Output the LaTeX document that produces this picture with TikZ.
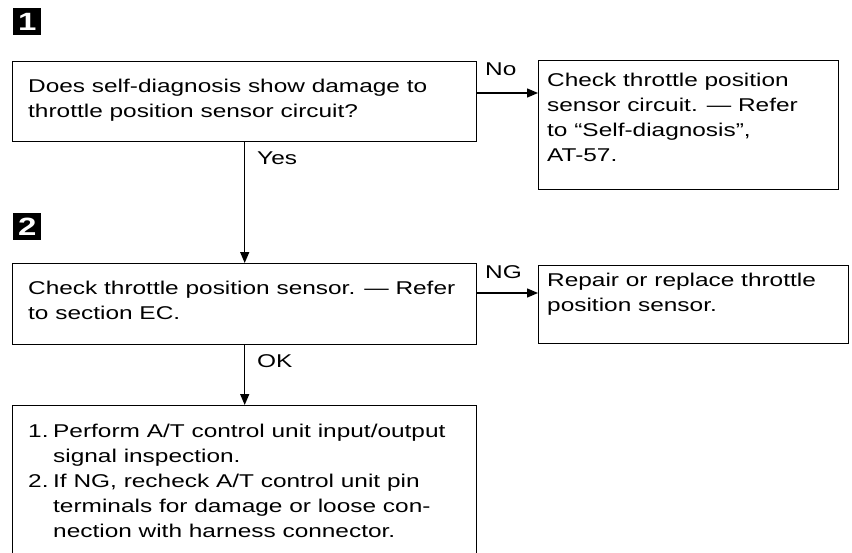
\documentclass[tikz,border=0pt]{standalone}
\usepackage{fontspec}
\setmainfont{Liberation Sans}[FakeStretch=1.32]
\usetikzlibrary{arrows.meta,calc}
\tikzset{
  box/.style={draw=black,line width=1.4pt,rectangle,inner sep=0pt,anchor=north west},
  txt/.style={inner sep=0pt,anchor=north west,align=left,font=\fontsize{18.5}{25}\selectfont},
  lbl/.style={inner sep=0pt,anchor=base west,font=\fontsize{18.5}{25}\selectfont},
  badge/.style={fill=black,text=white,inner sep=0pt,minimum width=28pt,minimum height=27pt,anchor=north west,font=\fontsize{25}{25}\selectfont\bfseries},
  arr/.style={line width=1.4pt,-{Triangle[length=11pt,width=9pt]}}
}
\begin{document}
\begin{tikzpicture}[x=1pt,y=-1pt]
\useasboundingbox (0,0) rectangle (852,552);
% badges
\node[badge] (n1) at (13,8) {1};
\node[badge] (n2) at (13,213) {2};
% boxes
\node[box,minimum width=464pt,minimum height=80pt] (b1) at (12,61) {};
\node[box,minimum width=300pt,minimum height=129pt] (r1) at (538,60) {};
\node[box,minimum width=464pt,minimum height=81pt] (b2) at (12,263) {};
\node[box,minimum width=310pt,minimum height=78pt] (r2) at (538,265) {};
\node[box,minimum width=464pt,minimum height=152pt] (b3) at (12,405) {};
% texts
\node[txt] (t1) at (28,78.5) {Does self-diagnosis show damage to\\throttle position sensor circuit?};
\node[txt] (t2) at (547,72.5) {Check throttle position\\sensor circuit. --- Refer\\to ``Self-diagnosis'',\\AT-57.};
\node[txt] (t3) at (28,280.5) {Check throttle position sensor. --- Refer\\to section EC.};
\node[txt] (t4) at (547,272.5) {Repair or replace throttle\\position sensor.};
\node[txt] (t5) at (28,423.5) {\makebox[25pt][l]{1.}Perform A/T control unit input/output\\
\hspace*{25pt}signal inspection.\\
\makebox[25pt][l]{2.}If NG, recheck A/T control unit pin\\
\hspace*{25pt}terminals for damage or loose con-\\
\hspace*{25pt}nection with harness connector.};
% connectors
\coordinate (noS) at ([yshift=-32pt]b1.north east);
\draw[arr] (noS) -- (noS -| r1.west);
\draw[arr] (b1.south) -- (b2.north);
\coordinate (ngS) at ([yshift=-30pt]b2.north east);
\draw[arr] (ngS) -- (ngS -| r2.west);
\draw[arr] (b2.south) -- (b3.north);
% labels
\node[lbl] (lno) at (485,75) {No};
\node[lbl] (lyes) at (257,164) {Yes};
\node[lbl] (lng) at (485,278) {NG};
\node[lbl] (lok) at (257,367) {OK};
\end{tikzpicture}
\end{document}
